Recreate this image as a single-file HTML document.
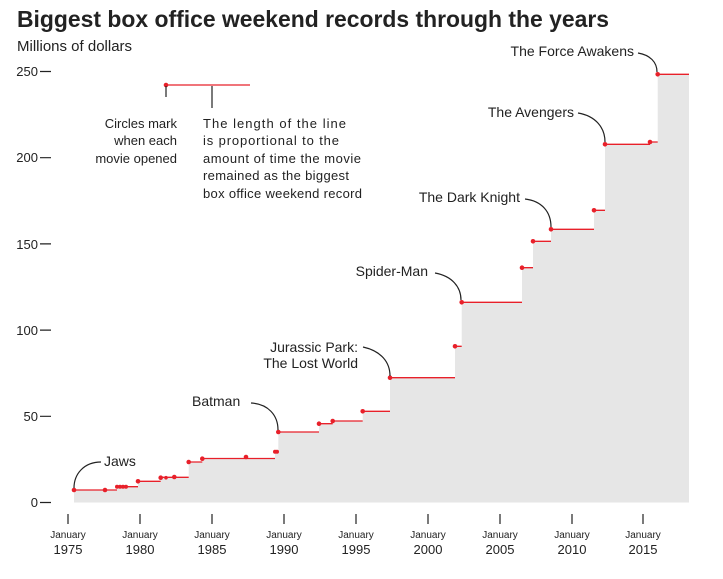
<!DOCTYPE html>
<html><head><meta charset="utf-8"><style>
html,body{margin:0;padding:0;background:#fff;width:723px;height:579px;overflow:hidden}
svg{display:block;font-family:"Liberation Sans",sans-serif}
</style></head><body>
<svg width="723" height="579" viewBox="0 0 723 579">
<text x="17" y="27" font-size="23" font-weight="bold" fill="#222" textLength="592" lengthAdjust="spacingAndGlyphs">Biggest box office weekend records through the years</text>
<text x="17" y="51" font-size="15" fill="#222">Millions of dollars</text>
<path fill="#e6e6e6" d="M74,502.5 V490 H117 V486.7 H138 V481.3 H160.7 V477.3 H188.7 V462 H202.3 V458 H275 V451.7 H278.3 V432 H319 V423.7 H332.7 V421 H362.7 V411.3 H390 V377.7 H455 V346.3 H461.7 V302.3 H522 V267.7 H533 V241.3 H551 V229.3 H594 V210.3 H605 V144.3 H650 V142 H657.7 V74.3 H689 V502.5 Z"/>
<g stroke="#e8202a" stroke-width="1.3" fill="none">
<path d="M74,490H117M117,486.7H138M138,481.3H160.7M160.7,477.3H188.7M188.7,462H202.3M202.3,458.5H275M275,451.7H278.3M278.3,432H319M319,423.7H332.7M332.7,421H362.7M362.7,411.3H390M390,377.7H455M455,346.3H461.7M461.7,302.3H522M522,267.7H533M533,241.3H551M551,229.3H594M594,210.3H605M605,144.3H650M650,142H657.7M657.7,74.3H689"/>
<path d="M166,85H250"/>
</g>
<g fill="#e8202a">
<circle cx="74" cy="490" r="2.3"/><circle cx="105" cy="490" r="2.3"/>
<circle cx="117" cy="486.7" r="2"/><circle cx="120" cy="486.7" r="2"/><circle cx="123" cy="486.7" r="2"/><circle cx="126" cy="486.7" r="2"/>
<circle cx="138" cy="481.3" r="2.3"/><circle cx="160.7" cy="477.7" r="2.3"/><circle cx="166" cy="477.7" r="1.8"/><circle cx="174.3" cy="477" r="2.3"/>
<circle cx="188.7" cy="462" r="2.3"/><circle cx="202.3" cy="458.7" r="2.3"/><circle cx="246" cy="457" r="2.3"/>
<circle cx="275" cy="451.7" r="2"/><circle cx="277" cy="451.7" r="2"/>
<circle cx="278.3" cy="432" r="2.3"/><circle cx="319" cy="423.7" r="2.3"/><circle cx="332.7" cy="421" r="2.3"/><circle cx="362.7" cy="411.3" r="2.3"/>
<circle cx="390" cy="377.7" r="2.3"/><circle cx="455" cy="346.3" r="2.3"/><circle cx="461.7" cy="302.3" r="2.3"/><circle cx="522" cy="267.7" r="2.3"/>
<circle cx="533" cy="241.3" r="2.3"/><circle cx="551" cy="229.3" r="2.3"/><circle cx="594" cy="210.3" r="2.3"/><circle cx="605" cy="144.3" r="2.3"/>
<circle cx="650" cy="142" r="2.3"/><circle cx="657.7" cy="74.3" r="2.3"/>
<circle cx="166" cy="85" r="2.3"/>
</g>
<g stroke="#222" stroke-width="1.2" fill="none">
<path d="M166,86V97M212,86V108"/>
<path d="M101,462 C84,462 74,474 74,488"/>
<path d="M251,403 C268,404 278,415 278,430"/>
<path d="M363,347 C381,351 390,362 390,376"/>
<path d="M435,273 C452,276 461,287 461,300"/>
<path d="M525,199 C542,201 551,212 551,227"/>
<path d="M578,113 C596,116 605,128 605,142"/>
<path d="M638,53 C650,55 657,62 657,72"/>
<path d="M40,502.5H51M40,416.3H51M40,330.1H51M40,243.9H51M40,157.7H51M40,71.5H51"/>
<path d="M68,514V524M140,514V524M212,514V524M284,514V524M356,514V524M428,514V524M500,514V524M572,514V524M643,514V524"/>
</g>
<g font-size="14" fill="#222">
<text x="104" y="466">Jaws</text>
<text x="192" y="406">Batman</text>
<text x="358" y="352" text-anchor="end">Jurassic Park:</text>
<text x="358" y="368" text-anchor="end">The Lost World</text>
<text x="428" y="276" text-anchor="end">Spider-Man</text>
<text x="520" y="202" text-anchor="end">The Dark Knight</text>
<text x="574" y="117" text-anchor="end">The Avengers</text>
<text x="634" y="56" text-anchor="end">The Force Awakens</text>
</g>
<g font-size="13" fill="#222">
<text x="177" y="128" text-anchor="end">Circles mark</text>
<text x="177" y="145" text-anchor="end">when each</text>
<text x="177" y="163" text-anchor="end">movie opened</text>
<text x="203" y="128" textLength="143">The length of the line</text>
<text x="203" y="145" textLength="136">is proportional to the</text>
<text x="203" y="163" textLength="158">amount of time the movie</text>
<text x="203" y="180" textLength="146">remained as the biggest</text>
<text x="203" y="198" textLength="159">box office weekend record</text>
</g>
<g font-size="13" fill="#222" text-anchor="end">
<text x="38" y="507">0</text><text x="38" y="421">50</text><text x="38" y="335">100</text>
<text x="38" y="249">150</text><text x="38" y="162">200</text><text x="38" y="76">250</text>
</g>
<g fill="#222" text-anchor="middle">
<g font-size="10">
<text x="68" y="538">January</text><text x="140" y="538">January</text><text x="212" y="538">January</text>
<text x="284" y="538">January</text><text x="356" y="538">January</text><text x="428" y="538">January</text>
<text x="500" y="538">January</text><text x="572" y="538">January</text><text x="643" y="538">January</text>
</g>
<g font-size="13">
<text x="68" y="554">1975</text><text x="140" y="554">1980</text><text x="212" y="554">1985</text>
<text x="284" y="554">1990</text><text x="356" y="554">1995</text><text x="428" y="554">2000</text>
<text x="500" y="554">2005</text><text x="572" y="554">2010</text><text x="643" y="554">2015</text>
</g>
</g>
</svg>
</body></html>
